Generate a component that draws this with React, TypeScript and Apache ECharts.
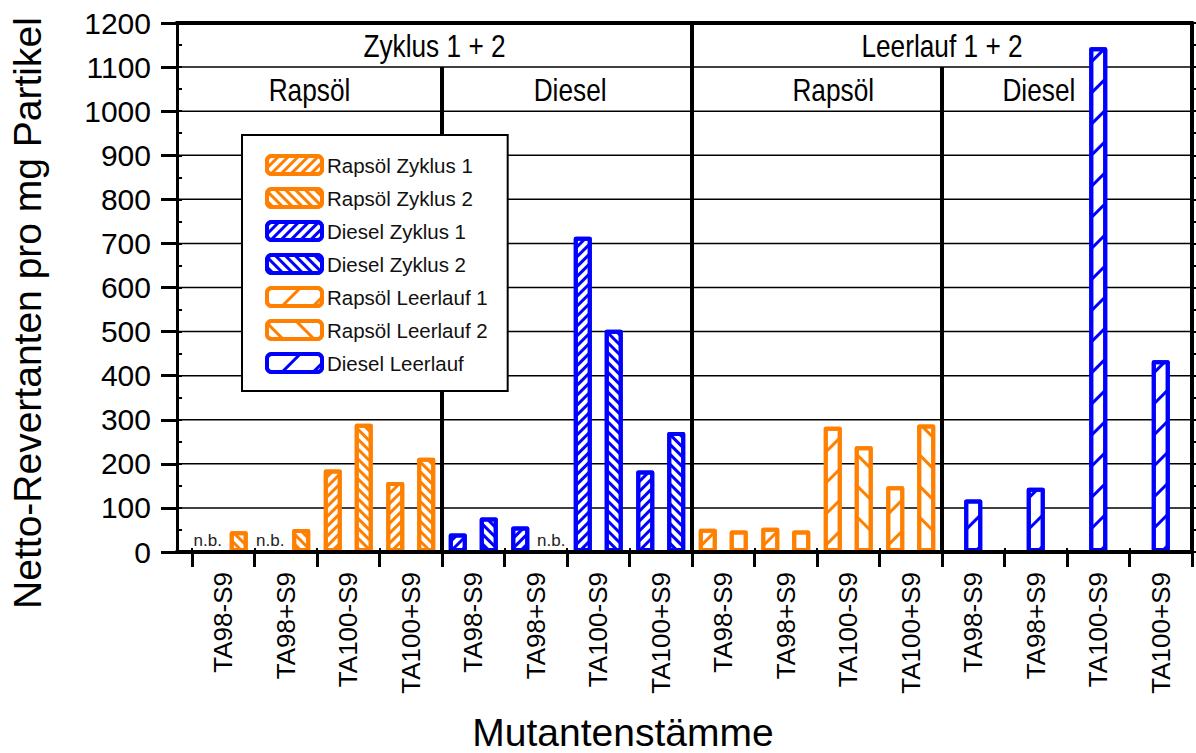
import React, { useEffect, useRef } from 'react';
import * as echarts from 'echarts';

// ---------- data ----------
const strains = ['TA98-S9', 'TA98+S9', 'TA100-S9', 'TA100+S9'];
const categories = [...strains, ...strains, ...strains, ...strains];

// null = n.b. (nicht bestimmt)
const rapsoelZyklus1 = [null, null, 187, 159];
const rapsoelZyklus2 = [47, 52, 291, 214];
const dieselZyklus1 = [42, 58, 715, 185];
const dieselZyklus2 = [78, null, 504, 272];
const rapsoelLeerlauf1 = [53, 55, 284, 149];
const rapsoelLeerlauf2 = [49, 49, 240, 289];
const dieselLeerlauf = [119, 146, 1145, 435];

const groupHeaders = ['Zyklus 1 + 2', 'Leerlauf 1 + 2'];
const subHeaders = ['Rapsöl', 'Diesel', 'Rapsöl', 'Diesel'];

const yMin = 0;
const yMax = 1200;
const yStep = 100;

// ---------- styles ----------
const ORANGE = '#FF8000';
const BLUE = '#0000FF';
const SANS = "'Liberation Sans', Arial, sans-serif";
const NARROW_SCALE = 0.82;

const nbLabel = {
  show: true,
  position: 'top',
  distance: 3,
  formatter: 'n.b.',
  fontSize: 17,
  fontFamily: SANS,
  color: '#222',
};

function place(values: (number | null)[], group: number) {
  const arr: any[] = new Array(16).fill('-');
  values.forEach((v, i) => {
    arr[group * 4 + i] =
      v === null ? { value: 0, itemStyle: { borderWidth: 0 }, label: nbLabel } : v;
  });
  return arr;
}

// dir = 1 -> "/" hatching, dir = -1 -> "\" hatching
function decal(color: string, dense: boolean, dir: number) {
  return {
    symbol: 'rect',
    symbolSize: 1,
    dashArrayX: [1, 0],
    dashArrayY: dense ? [3, 4] : [3, 19],
    rotation: (-dir * Math.PI) / 4,
    color,
  };
}

function bar(
  name: string,
  values: (number | null)[],
  group: number,
  color: string,
  dense: boolean,
  dir: number,
  stack: string | undefined,
  xAxisIndex: number
) {
  return {
    type: 'bar',
    name,
    xAxisIndex,
    yAxisIndex: 0,
    stack,
    barWidth: 18,
    barGap: '72%',
    z: 2,
    data: place(values, group),
    itemStyle: {
      color: '#fff',
      borderColor: color,
      borderWidth: 4,
      borderJoin: 'round',
      decal: decal(color, dense, dir),
    },
    emphasis: { disabled: true },
  };
}

export default function App() {
  const ref = useRef<HTMLDivElement>(null);

  useEffect(() => {
    if (!ref.current) return;
    const chart = echarts.init(ref.current, null, { renderer: 'svg' });

    const geom = (api: any) => {
      const bw = api.size([1, 0])[0];
      const L = api.coord([0, 0])[0] - bw / 2;
      const R = L + 16 * bw;
      const axisL = L - 15;
      const xb = (k: number) => L + k * bw;
      const y = (v: number) => api.coord([0, v])[1];
      return { bw, L, R, axisL, xb, y };
    };

    const underlay = (params: any, api: any) => {
      const { R, axisL, y } = geom(api);
      const children: any[] = [];
      for (let v = yMin + yStep; v < yMax; v += yStep) {
        children.push({
          type: 'line',
          shape: { x1: axisL, y1: y(v), x2: R, y2: y(v) },
          style: { stroke: '#000', lineWidth: 1.5 },
        });
      }
      return { type: 'group', children };
    };

    const overlay = (params: any, api: any) => {
      const { R, axisL, xb, y, L, bw } = geom(api);
      const children: any[] = [];
      const line = (x1: number, y1: number, x2: number, y2: number, w: number) =>
        children.push({
          type: 'line',
          shape: { x1, y1, x2, y2 },
          style: { stroke: '#000', lineWidth: w },
        });
      line(axisL - 1.5, y(yMax), R + 1.5, y(yMax), 4);
      line(axisL - 1.5, y(0), R + 1.5, y(0), 4);
      line(xb(4), y(1100), xb(4), y(0), 4);
      line(xb(8), y(yMax), xb(8), y(0), 4);
      line(xb(12), y(1100), xb(12), y(0), 4);
      const text = (t: string, x: number, yy: number) =>
        children.push({
          type: 'text',
          x,
          y: yy,
          scaleX: NARROW_SCALE,
          style: {
            text: t,
            x: 0,
            y: 0,
            fill: '#000',
            fontSize: 32,
            fontFamily: SANS,
            align: 'center',
            verticalAlign: 'middle',
          },
        });
      const row1 = (y(1200) + y(1100)) / 2 + 1;
      const row2 = (y(1100) + y(1000)) / 2 + 1;
      text(groupHeaders[0], (axisL + xb(8)) / 2, row1);
      text(groupHeaders[1], (xb(8) + R) / 2, row1);
      const subPos = [1.88, 6.05, 10.26, 13.55];
      subHeaders.forEach((s, i) => text(s, L + subPos[i] * bw, row2));
      return { type: 'group', children };
    };

    const option: any = {
      animation: false,
      backgroundColor: '#fff',
      grid: { left: 192, right: 4, top: 23, bottom: 201, containLabel: false },
      legend: {
        orient: 'vertical',
        left: 242,
        top: 135,
        padding: [19, 20, 17, 23],
        backgroundColor: '#fff',
        borderColor: '#000',
        borderWidth: 2,
        itemWidth: 55,
        itemHeight: 18,
        itemGap: 11,
        icon: 'roundRect',
        selectedMode: false,
        itemStyle: { borderWidth: 4 },
        textStyle: { fontSize: 20.5, fontFamily: SANS, color: '#111' },
        z: 5,
      },
      xAxis: [
        {
          type: 'category',
          data: categories,
          position: 'bottom',
          axisLine: { show: false },
          axisTick: { show: true, interval: 0, length: 15, lineStyle: { color: '#000', width: 3 } },
          axisLabel: {
            interval: 0,
            rotate: 90,
            margin: 20,
            fontSize: 26,
            fontFamily: SANS,
            color: '#000',
          },
          splitLine: { show: false },
        },
        {
          type: 'category',
          data: categories,
          position: 'bottom',
          show: false,
        },
        {
          type: 'category',
          data: categories,
          position: 'top',
          axisLine: { show: false },
          axisTick: { show: true, interval: 0, length: 4, lineStyle: { color: '#000', width: 2 } },
          axisLabel: { show: false },
          splitLine: { show: false },
        },
      ],
      yAxis: [
        {
          type: 'value',
          min: yMin,
          max: yMax,
          interval: yStep,
          position: 'left',
          offset: 15,
          axisLine: { show: true, lineStyle: { color: '#000', width: 3 } },
          axisTick: { show: true, length: 16, lineStyle: { color: '#000', width: 3 } },
          axisLabel: {
            margin: 26,
            fontSize: 30,
            fontFamily: SANS,
            color: '#000',
            formatter: (v: number) => String(v),
          },
          splitLine: { show: false },
        },
        {
          type: 'value',
          min: yMin,
          max: yMax,
          interval: yStep / 2,
          position: 'left',
          offset: 15,
          axisLine: { show: false },
          axisTick: { show: true, inside: true, length: 5, lineStyle: { color: '#000', width: 2 } },
          axisLabel: { show: false },
          splitLine: { show: false },
        },
        {
          type: 'value',
          min: yMin,
          max: yMax,
          interval: yStep / 2,
          position: 'right',
          axisLine: { show: true, lineStyle: { color: '#000', width: 4 } },
          axisTick: { show: true, length: 4, lineStyle: { color: '#000', width: 2 } },
          axisLabel: { show: false },
          splitLine: { show: false },
        },
      ],
      graphic: [
        {
          type: 'text',
          x: 27,
          y: 313,
          rotation: Math.PI / 2,
          style: {
            text: 'Netto-Revertanten pro mg Partikel',
            fontSize: 39,
            fontFamily: SANS,
            fill: '#000',
            align: 'center',
            verticalAlign: 'middle',
          },
        },
        {
          type: 'text',
          x: 623,
          y: 732,
          style: {
            text: 'Mutantenstämme',
            fontSize: 39,
            fontFamily: SANS,
            fill: '#000',
            align: 'center',
            verticalAlign: 'middle',
          },
        },
      ],
      series: [
        {
          type: 'custom',
          name: 'grid-lines',
          xAxisIndex: 0,
          yAxisIndex: 0,
          z: 1,
          clip: false,
          silent: true,
          data: [[0, 0]],
          renderItem: underlay,
        },
        bar('Rapsöl Zyklus 1', rapsoelZyklus1, 0, ORANGE, true, 1, 'A', 0),
        bar('Rapsöl Zyklus 2', rapsoelZyklus2, 0, ORANGE, true, -1, 'B', 0),
        bar('Diesel Zyklus 1', dieselZyklus1, 1, BLUE, true, 1, 'A', 0),
        bar('Diesel Zyklus 2', dieselZyklus2, 1, BLUE, true, -1, 'B', 0),
        bar('Rapsöl Leerlauf 1', rapsoelLeerlauf1, 2, ORANGE, false, 1, 'A', 0),
        bar('Rapsöl Leerlauf 2', rapsoelLeerlauf2, 2, ORANGE, false, -1, 'B', 0),
        bar('Diesel Leerlauf', dieselLeerlauf, 3, BLUE, false, 1, undefined, 1),
        {
          type: 'custom',
          name: 'frame',
          xAxisIndex: 0,
          yAxisIndex: 0,
          z: 3,
          clip: false,
          silent: true,
          data: [[0, 0]],
          renderItem: overlay,
        },
      ],
    };
    option.legend.data = option.series.filter((s: any) => s.type === 'bar').map((s: any) => s.name);

    chart.setOption(option);
    return () => chart.dispose();
  }, []);

  return (
    <div
      ref={ref}
      style={{ position: 'fixed', left: 0, top: 0, width: 1196, height: 753, background: '#fff' }}
    />
  );
}
